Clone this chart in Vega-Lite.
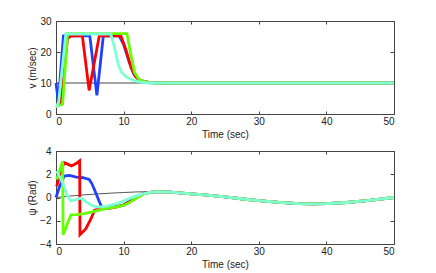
{
"$schema": "https://vega.github.io/schema/vega-lite/v6.json",
"background": "white",
"padding": {"left": 27, "top": 15, "right": 5, "bottom": 5},
"spacing": 5,
"config": {
  "font": "Liberation Sans",
  "view": {"stroke": "#444", "strokeWidth": 1},
  "axis": {"labelFont": "Liberation Sans", "titleFont": "Liberation Sans", "labelFontSize": 10, "titleFontSize": 10, "titleFontWeight": "normal", "labelColor": "#222", "titleColor": "#222", "grid": false, "domain": false, "tickColor": "#444", "titlePadding": 2},
  "axisX": {"labelPadding": 5, "titlePadding": 3},
  "axisY": {"labelPadding": 9}
},
"datasets": {
  "vref": [{"t":0,"v":10},{"t":50,"v":10}],
  "vtop": [
    {"t":0,"v":10,"s":"s1"},{"t":0.35,"v":4,"s":"s1"},{"t":1.1,"v":25.2,"s":"s1"},{"t":5.0,"v":25.2,"s":"s1"},{"t":6.05,"v":6,"s":"s1"},{"t":7.0,"v":25.2,"s":"s1"},{"t":9.35,"v":25.2,"s":"s1"},{"t":10,"v":22.5,"s":"s1"},{"t":10.8,"v":17,"s":"s1"},{"t":11.5,"v":13,"s":"s1"},{"t":12.3,"v":10.8,"s":"s1"},{"t":13.5,"v":10.1,"s":"s1"},{"t":15,"v":10,"s":"s1"},{"t":50,"v":10,"s":"s1"},
    {"t":0,"v":3,"s":"s2"},{"t":0.7,"v":3,"s":"s2"},{"t":1.7,"v":24.3,"s":"s2"},{"t":2.2,"v":25.2,"s":"s2"},{"t":3.9,"v":25.2,"s":"s2"},{"t":4.9,"v":7.6,"s":"s2"},{"t":6.4,"v":25.2,"s":"s2"},{"t":9.6,"v":25.2,"s":"s2"},{"t":10.3,"v":21,"s":"s2"},{"t":11.1,"v":15,"s":"s2"},{"t":11.8,"v":12,"s":"s2"},{"t":12.5,"v":10.8,"s":"s2"},{"t":14,"v":10.1,"s":"s2"},{"t":16,"v":10,"s":"s2"},{"t":50,"v":10,"s":"s2"},
    {"t":0.05,"v":2.5,"s":"s3"},{"t":0.98,"v":3.2,"s":"s3"},{"t":1.7,"v":25.9,"s":"s3"},{"t":10.5,"v":25.9,"s":"s3"},{"t":11.0,"v":20,"s":"s3"},{"t":11.6,"v":13.5,"s":"s3"},{"t":12.3,"v":11,"s":"s3"},{"t":13.5,"v":10.2,"s":"s3"},{"t":15,"v":10,"s":"s3"},{"t":50,"v":10,"s":"s3"},
    {"t":0.05,"v":2,"s":"s4"},{"t":0.4,"v":4,"s":"s4"},{"t":1.45,"v":25.8,"s":"s4"},{"t":8.1,"v":25.8,"s":"s4"},{"t":8.6,"v":22,"s":"s4"},{"t":9.2,"v":16,"s":"s4"},{"t":9.7,"v":13.5,"s":"s4"},{"t":10.5,"v":11.8,"s":"s4"},{"t":11.5,"v":10.8,"s":"s4"},{"t":12.5,"v":10.3,"s":"s4"},{"t":14,"v":10,"s":"s4"},{"t":50,"v":10,"s":"s4"}
  ],
  "pref": [
    {"t":0,"p":0},{"t":2,"p":0.12},{"t":4,"p":0.22},{"t":6,"p":0.3},{"t":8,"p":0.37},{"t":10,"p":0.43},{"t":12,"p":0.48},{"t":14,"p":0.5},{"t":15,"p":0.5},{"t":17,"p":0.47},{"t":20,"p":0.32},{"t":22,"p":0.22},{"t":25,"p":0.05},{"t":28,"p":-0.15},{"t":30,"p":-0.27},{"t":33,"p":-0.42},{"t":36,"p":-0.52},{"t":38,"p":-0.55},{"t":40,"p":-0.53},{"t":43,"p":-0.43},{"t":46,"p":-0.27},{"t":48,"p":-0.14},{"t":50,"p":0}
  ],
  "ptop": [
    {"t":0,"p":0,"s":"s1"},{"t":0.5,"p":0.9,"s":"s1"},{"t":1.2,"p":1.84,"s":"s1"},{"t":2,"p":1.9,"s":"s1"},{"t":3,"p":1.75,"s":"s1"},{"t":4,"p":1.7,"s":"s1"},{"t":4.9,"p":1.55,"s":"s1"},{"t":5.3,"p":1.2,"s":"s1"},{"t":5.7,"p":0.67,"s":"s1"},{"t":6.4,"p":-0.35,"s":"s1"},{"t":6.85,"p":-0.95,"s":"s1"},{"t":8,"p":-0.9,"s":"s1"},{"t":10,"p":-0.65,"s":"s1"},{"t":12,"p":0.05,"s":"s1"},{"t":13,"p":0.35,"s":"s1"},{"t":15,"p":0.5,"s":"s1"},{"t":17,"p":0.47,"s":"s1"},{"t":20,"p":0.32,"s":"s1"},{"t":22,"p":0.22,"s":"s1"},{"t":25,"p":0.05,"s":"s1"},{"t":28,"p":-0.15,"s":"s1"},{"t":30,"p":-0.27,"s":"s1"},{"t":33,"p":-0.42,"s":"s1"},{"t":36,"p":-0.52,"s":"s1"},{"t":38,"p":-0.55,"s":"s1"},{"t":40,"p":-0.53,"s":"s1"},{"t":43,"p":-0.43,"s":"s1"},{"t":46,"p":-0.27,"s":"s1"},{"t":48,"p":-0.14,"s":"s1"},{"t":50,"p":0,"s":"s1"},
    {"t":0.1,"p":0.96,"s":"s2"},{"t":0.6,"p":2.0,"s":"s2"},{"t":1.2,"p":3.0,"s":"s2"},{"t":1.8,"p":2.85,"s":"s2"},{"t":2.3,"p":2.72,"s":"s2"},{"t":2.9,"p":2.9,"s":"s2"},{"t":3.5,"p":3.16,"s":"s2"},{"t":3.55,"p":-3.2,"s":"s2"},{"t":4.4,"p":-2.7,"s":"s2"},{"t":5.2,"p":-1.8,"s":"s2"},{"t":5.7,"p":-1.1,"s":"s2"},{"t":6.5,"p":-1.0,"s":"s2"},{"t":8,"p":-0.92,"s":"s2"},{"t":9,"p":-0.8,"s":"s2"},{"t":10,"p":-0.65,"s":"s2"},{"t":11,"p":-0.35,"s":"s2"},{"t":12,"p":0.05,"s":"s2"},{"t":13,"p":0.35,"s":"s2"},{"t":14,"p":0.47,"s":"s2"},{"t":15,"p":0.5,"s":"s2"},{"t":17,"p":0.47,"s":"s2"},{"t":20,"p":0.32,"s":"s2"},{"t":22,"p":0.22,"s":"s2"},{"t":25,"p":0.05,"s":"s2"},{"t":28,"p":-0.15,"s":"s2"},{"t":30,"p":-0.27,"s":"s2"},{"t":33,"p":-0.42,"s":"s2"},{"t":36,"p":-0.52,"s":"s2"},{"t":38,"p":-0.55,"s":"s2"},{"t":40,"p":-0.53,"s":"s2"},{"t":43,"p":-0.43,"s":"s2"},{"t":46,"p":-0.27,"s":"s2"},{"t":48,"p":-0.14,"s":"s2"},{"t":50,"p":0,"s":"s2"},
    {"t":0.1,"p":1.55,"s":"s3"},{"t":0.98,"p":3.1,"s":"s3"},{"t":1.05,"p":-3.2,"s":"s3"},{"t":2.2,"p":-1.5,"s":"s3"},{"t":3,"p":-1.48,"s":"s3"},{"t":4,"p":-1.4,"s":"s3"},{"t":5,"p":-1.28,"s":"s3"},{"t":6,"p":-1.15,"s":"s3"},{"t":7,"p":-1.0,"s":"s3"},{"t":8,"p":-0.9,"s":"s3"},{"t":9,"p":-0.8,"s":"s3"},{"t":10,"p":-0.68,"s":"s3"},{"t":11,"p":-0.4,"s":"s3"},{"t":12,"p":-0.02,"s":"s3"},{"t":13,"p":0.3,"s":"s3"},{"t":14,"p":0.45,"s":"s3"},{"t":15,"p":0.5,"s":"s3"},{"t":17,"p":0.47,"s":"s3"},{"t":20,"p":0.32,"s":"s3"},{"t":22,"p":0.22,"s":"s3"},{"t":25,"p":0.05,"s":"s3"},{"t":28,"p":-0.15,"s":"s3"},{"t":30,"p":-0.27,"s":"s3"},{"t":33,"p":-0.42,"s":"s3"},{"t":36,"p":-0.52,"s":"s3"},{"t":38,"p":-0.55,"s":"s3"},{"t":40,"p":-0.53,"s":"s3"},{"t":43,"p":-0.43,"s":"s3"},{"t":46,"p":-0.27,"s":"s3"},{"t":48,"p":-0.14,"s":"s3"},{"t":50,"p":0,"s":"s3"},
    {"t":0.1,"p":2.28,"s":"s4"},{"t":1.0,"p":1.26,"s":"s4"},{"t":1.7,"p":0.1,"s":"s4"},{"t":2.2,"p":-0.3,"s":"s4"},{"t":2.95,"p":-0.18,"s":"s4"},{"t":3.7,"p":-0.05,"s":"s4"},{"t":4.4,"p":-0.35,"s":"s4"},{"t":5.4,"p":-0.72,"s":"s4"},{"t":6.4,"p":-0.83,"s":"s4"},{"t":7.4,"p":-0.77,"s":"s4"},{"t":8.5,"p":-0.6,"s":"s4"},{"t":9.8,"p":-0.35,"s":"s4"},{"t":11,"p":-0.05,"s":"s4"},{"t":12.3,"p":0.23,"s":"s4"},{"t":13.8,"p":0.45,"s":"s4"},{"t":15,"p":0.5,"s":"s4"},{"t":17,"p":0.47,"s":"s4"},{"t":20,"p":0.32,"s":"s4"},{"t":22,"p":0.22,"s":"s4"},{"t":25,"p":0.05,"s":"s4"},{"t":28,"p":-0.15,"s":"s4"},{"t":30,"p":-0.27,"s":"s4"},{"t":33,"p":-0.42,"s":"s4"},{"t":36,"p":-0.52,"s":"s4"},{"t":38,"p":-0.55,"s":"s4"},{"t":40,"p":-0.53,"s":"s4"},{"t":43,"p":-0.43,"s":"s4"},{"t":46,"p":-0.27,"s":"s4"},{"t":48,"p":-0.14,"s":"s4"},{"t":50,"p":0,"s":"s4"}
  ]
},
"vconcat": [
  {
    "width": 338, "height": 93,
    "layer": [
      {"data": {"name": "vref"}, "mark": {"type": "line", "color": "#444", "strokeWidth": 1},
       "encoding": {
         "x": {"field": "t", "type": "quantitative", "scale": {"domain": [0, 50], "nice": false}, "axis": {"orient": "top", "labels": false, "title": null, "values": [0,10,20,30,40,50], "tickSize": -3}},
         "y": {"field": "v", "type": "quantitative", "scale": {"domain": [0, 30], "nice": false}, "axis": {"orient": "right", "labels": false, "title": null, "values": [0,10,20,30], "tickSize": -4}}
       }},
      {"data": {"name": "vtop"}, "mark": {"type": "line", "strokeWidth": 2.8},
       "encoding": {
         "x": {"field": "t", "type": "quantitative", "scale": {"domain": [0, 50], "nice": false}, "axis": {"orient": "bottom", "title": "Time (sec)", "values": [0,10,20,30,40,50], "tickSize": -3}},
         "y": {"field": "v", "type": "quantitative", "scale": {"domain": [0, 30], "nice": false}, "axis": {"orient": "left", "title": "v (m/sec)", "values": [0,10,20,30], "tickSize": -4}},
         "color": {"field": "s", "type": "nominal", "scale": {"domain": ["s1","s2","s3","s4"], "range": ["#2040ff","#ff0000","#66ff00","#7fffd4"]}, "legend": null}
       }}
    ],
    "resolve": {"axis": {"x": "independent", "y": "independent"}}
  },
  {
    "width": 338, "height": 93,
    "layer": [
      {"data": {"name": "pref"}, "mark": {"type": "line", "color": "#555", "strokeWidth": 1},
       "encoding": {
         "x": {"field": "t", "type": "quantitative", "scale": {"domain": [0, 50], "nice": false}, "axis": {"orient": "top", "labels": false, "title": null, "values": [0,10,20,30,40,50], "tickSize": -3}},
         "y": {"field": "p", "type": "quantitative", "scale": {"domain": [-4, 4], "nice": false}, "axis": {"orient": "right", "labels": false, "title": null, "values": [-4,-2,0,2,4], "tickSize": -4}}
       }},
      {"data": {"name": "ptop"}, "mark": {"type": "line", "strokeWidth": 2.8},
       "encoding": {
         "x": {"field": "t", "type": "quantitative", "scale": {"domain": [0, 50], "nice": false}, "axis": {"orient": "bottom", "title": "Time (sec)", "values": [0,10,20,30,40,50], "tickSize": -3}},
         "y": {"field": "p", "type": "quantitative", "scale": {"domain": [-4, 4], "nice": false}, "axis": {"orient": "left", "title": "ψ (Rad)", "values": [-4,-2,0,2,4], "tickSize": -4}},
         "color": {"field": "s", "type": "nominal", "scale": {"domain": ["s1","s2","s3","s4"], "range": ["#2040ff","#ff0000","#66ff00","#7fffd4"]}, "legend": null}
       }}
    ],
    "resolve": {"axis": {"x": "independent", "y": "independent"}}
  }
]
}
